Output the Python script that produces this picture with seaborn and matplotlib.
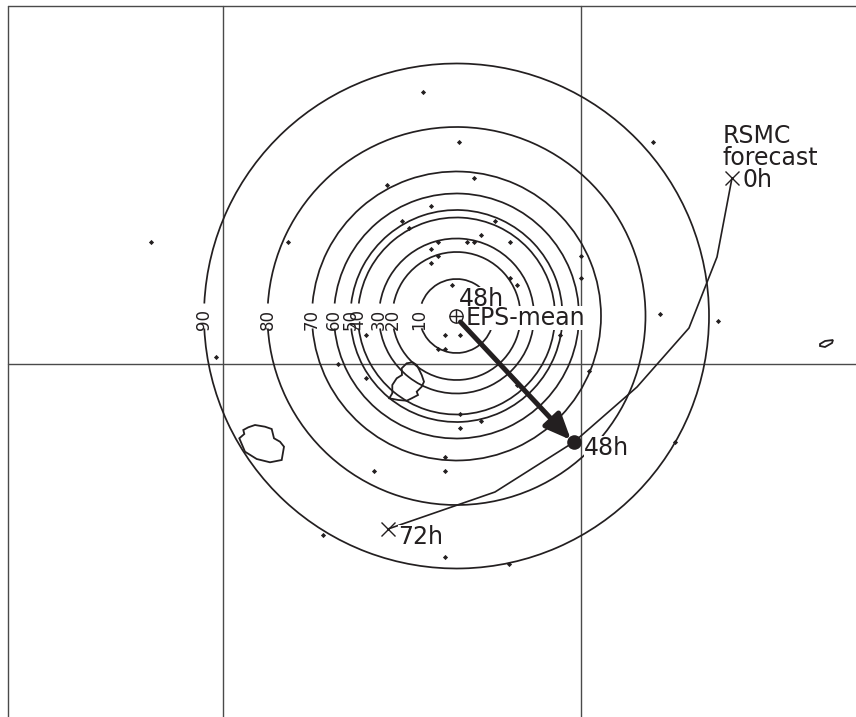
import matplotlib
matplotlib.use("Agg")
import matplotlib.pyplot as plt
from matplotlib.patches import Arc
import numpy as np
import pandas as pd
import seaborn as sns

# chart values (image pixel frame)
centre = (456.5, 316)
prob_levels = [10, 20, 30, 40, 50, 60, 70, 80, 90]
prob_radii = [37, 64, 77.5, 98.5, 106, 122.5, 144.5, 189, 252.5]
member_x = [423, 459, 653, 387, 474, 431, 402, 409, 495, 151, 288, 438, 467, 474, 481, 510,
            431, 438, 581, 431, 510, 517, 581, 452, 660, 718, 445, 460, 366, 560, 438, 445,
            216, 338, 589, 366, 517, 460, 460, 481, 445, 374, 445, 675, 323, 445, 509]
member_y = [92, 142, 142, 185, 178, 206, 221, 228, 221, 242, 242, 242, 242, 242, 235, 242,
            249, 256, 256, 263, 278, 285, 278, 285, 314, 321, 335, 335, 335, 335, 349, 349,
            357, 364, 371, 378, 385, 414, 428, 421, 457, 471, 471, 442, 535, 557, 564]
track_x = [732, 717, 689, 637, 574, 495, 388]
track_y = [178, 257, 328, 387, 442, 492, 529]
grid_v = [8, 223, 581]
grid_h = [6, 363.5]
reunion_x = [243.3, 248.3, 255, 265, 271.7, 274, 280, 284, 281.7, 270, 256.7, 245, 239.3, 244.3]
reunion_y = [430, 427.3, 425, 426.7, 429, 438.3, 441.7, 446.7, 460, 462.3, 459, 451.7, 438.3, 434]
mauritius_x = [412.7, 416.7, 419.3, 421.7, 424, 421.7, 416.7, 418, 411.7, 406.7, 398.3, 389.3,
               392.3, 392.3, 396.7, 402, 401.7, 406.7]
mauritius_y = [362.3, 365, 370, 375, 381.7, 386.7, 391.7, 395, 398.3, 400.7, 400, 398.3,
               393.3, 385, 378.3, 375, 368.3, 363.3]
rodrigues_x = [820, 825, 833, 832, 825, 820]
rodrigues_y = [344, 341, 340, 343, 347, 346]
forecast_48h = (574, 442)

sns.set_style("white")
plt.rcParams["font.family"] = ["DejaVu Sans"]
INK = "#231f20"
GRID = "#4a4a4a"

fig = plt.figure(figsize=(8.56, 7.17), dpi=100)
ax = fig.add_axes([0, 0, 1, 1])

for x in grid_v:
    ax.plot([x, x], [grid_h[0], 717], color=GRID, lw=1.0, zorder=1)
for y in grid_h:
    ax.plot([grid_v[0], 856], [y, y], color=GRID, lw=1.0, zorder=1)

for level, r in zip(prob_levels, prob_radii):
    gap = np.degrees(12.5 / r)
    ax.add_patch(Arc(centre, 2 * r, 2 * r, theta1=-180 + gap, theta2=180 - gap,
                     ec=INK, lw=1.25, zorder=2))
    ax.text(centre[0] - r, 319.5, str(level), rotation=90, ha="center", va="center",
            fontsize=12, color=INK, zorder=4)

for xs, ys in [(reunion_x, reunion_y), (mauritius_x, mauritius_y), (rodrigues_x, rodrigues_y)]:
    ax.fill(xs, ys, facecolor="none", edgecolor=INK, lw=1.3, zorder=3)

sns.scatterplot(data=pd.DataFrame({"x": member_x, "y": member_y}), x="x", y="y", ax=ax,
                marker="D", s=7, color=INK, linewidth=0, zorder=3, legend=False)

sns.lineplot(data=pd.DataFrame({"x": track_x, "y": track_y}), x="x", y="y", ax=ax, sort=False,
             estimator=None, color=INK, lw=1.2, zorder=5, legend=False)

ax.plot([track_x[0], track_x[-1]], [track_y[0], track_y[-1]], ls="none", marker="x", ms=10,
        mew=1.0, color=INK, zorder=6)
ax.plot(*forecast_48h, marker="o", ms=10.5, color=INK, mew=0, zorder=9)
ax.plot(*centre, marker="o", ms=9.5, mfc="none", mec=INK, mew=1.0, zorder=7)
ax.plot(*centre, marker="+", ms=9.5, mec=INK, mew=1.0, zorder=7)

ax.annotate("", xy=(forecast_48h[0] - 3, forecast_48h[1] - 2), xytext=(centre[0] + 4, centre[1] + 6),
            arrowprops=dict(arrowstyle="-|>,head_length=1.05,head_width=0.45", lw=3.6, color=INK,
                            shrinkA=0, shrinkB=0, mutation_scale=15), zorder=8)

big = dict(fontsize=17, color=INK, va="baseline", ha="left", zorder=6,
           bbox=dict(fc="white", ec="none", pad=0.3))
ax.text(459, 306, "48h", **big)
ax.text(466, 325, "EPS-mean", **big)
ax.text(584, 455, "48h", **big)
ax.text(398, 544, "72h", **big)
ax.text(723, 143, "RSMC", **big)
ax.text(723, 165, "forecast", **big)
ax.text(743, 187, "0h", **big)

ax.set_xlim(0, 856)
ax.set_ylim(717, 0)
ax.axis("off")
fig.savefig("out.png", dpi=100, facecolor="white")
